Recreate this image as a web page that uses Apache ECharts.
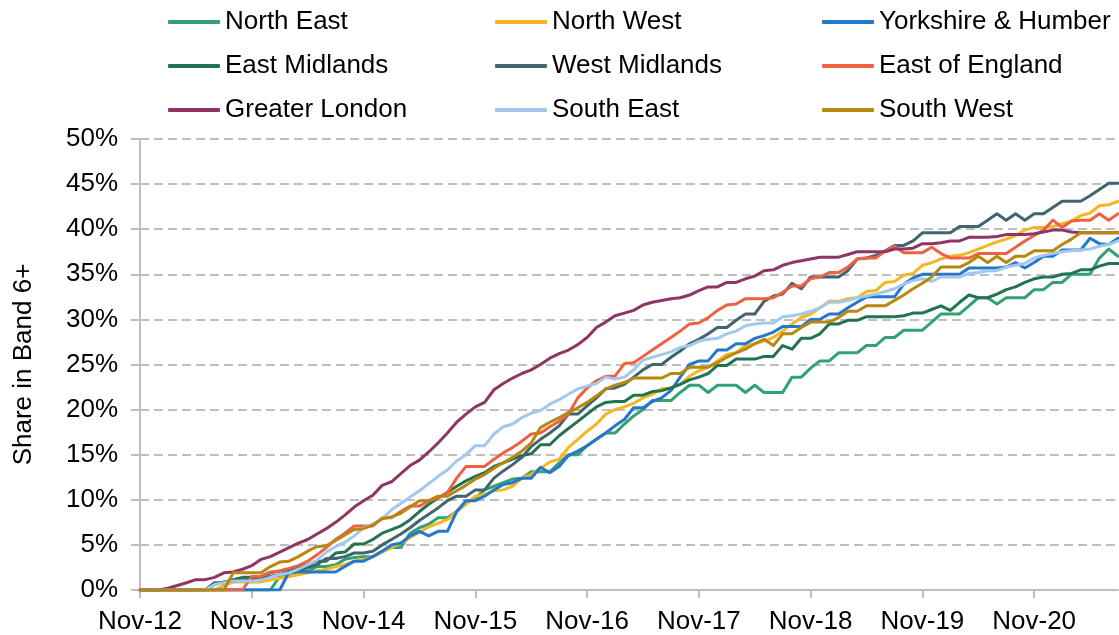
<!DOCTYPE html>
<html lang="en">
<head>
    <meta charset="UTF-8">
    <title>Share in Band 6+ by region</title>
    <script src="https://cdn.jsdelivr.net/npm/echarts@6/dist/echarts.min.js"></script>
    <style>
        html, body { margin: 0; padding: 0; background: #fff; }
        #main { width: 1119px; height: 635px; }
    </style>
</head>
<body>
    <div id="main"></div>
<script>
    // monthly, Nov-12 .. Aug-21
    var months = [
        'Nov-12','Dec-12',
        'Jan-13','Feb-13','Mar-13','Apr-13','May-13','Jun-13','Jul-13','Aug-13','Sep-13','Oct-13','Nov-13','Dec-13',
        'Jan-14','Feb-14','Mar-14','Apr-14','May-14','Jun-14','Jul-14','Aug-14','Sep-14','Oct-14','Nov-14','Dec-14',
        'Jan-15','Feb-15','Mar-15','Apr-15','May-15','Jun-15','Jul-15','Aug-15','Sep-15','Oct-15','Nov-15','Dec-15',
        'Jan-16','Feb-16','Mar-16','Apr-16','May-16','Jun-16','Jul-16','Aug-16','Sep-16','Oct-16','Nov-16','Dec-16',
        'Jan-17','Feb-17','Mar-17','Apr-17','May-17','Jun-17','Jul-17','Aug-17','Sep-17','Oct-17','Nov-17','Dec-17',
        'Jan-18','Feb-18','Mar-18','Apr-18','May-18','Jun-18','Jul-18','Aug-18','Sep-18','Oct-18','Nov-18','Dec-18',
        'Jan-19','Feb-19','Mar-19','Apr-19','May-19','Jun-19','Jul-19','Aug-19','Sep-19','Oct-19','Nov-19','Dec-19',
        'Jan-20','Feb-20','Mar-20','Apr-20','May-20','Jun-20','Jul-20','Aug-20','Sep-20','Oct-20','Nov-20','Dec-20',
        'Jan-21','Feb-21','Mar-21','Apr-21','May-21','Jun-21','Jul-21','Aug-21'
    ];

    var northEast = [0,0,0,0,0,0,0,0,0,0,0,0,0,0,0,1.5,1.5,2.1,2.1,2.6,2.6,2.8,3.4,3.6,3.7,3.7,4.3,4.7,4.7,6.3,
        6.9,7.3,8.0,8.0,8.7,9.7,10.2,11.1,11.5,11.9,12.3,12.4,13.1,13.1,13.1,14.1,15.0,15.0,16.0,16.7,
        17.4,17.4,18.4,19.3,20.0,21.0,21.0,21.0,21.9,22.7,22.7,21.9,22.7,22.7,22.7,21.9,22.7,21.9,21.9,21.9,
        23.6,23.6,24.6,25.4,25.4,26.3,26.3,26.3,27.1,27.1,28.0,28.0,28.8,28.8,28.8,29.7,30.6,30.6,30.6,31.5,
        32.4,32.4,31.7,32.4,32.4,32.4,33.3,33.3,34.1,34.1,35.0,35.0,35.0,36.8,37.8,37.0];
    var northWest = [0,0,0,0,0,0,0,0,0,0.5,0.9,0.9,0.9,0.9,1.1,1.3,1.5,1.7,1.9,2.1,2.3,2.6,2.8,3.2,3.4,3.7,4.2,4.7,5.2,5.8,
        6.4,7.0,7.4,7.8,8.7,9.5,10.4,10.6,11.0,11.1,11.5,12.4,12.8,13.5,14.2,14.5,15.8,16.7,17.6,18.4,
        19.5,20.0,20.3,20.7,21.3,21.7,22.3,22.4,22.8,23.7,24.3,24.7,25.4,26.1,26.3,27.1,27.3,27.6,28.0,28.7,
        29.5,30.2,30.6,31.3,32.0,32.0,32.3,32.4,33.1,33.2,34.1,34.2,34.9,35.1,36.0,36.3,36.7,37.0,37.1,37.4,
        37.8,38.2,38.6,38.9,39.3,39.9,40.2,40.2,40.3,40.6,40.9,41.5,41.8,42.6,42.7,43.1];
    var yorkshire = [0,0,0,0,0,0,0,0,0,0,0,0,0,0,0,0,2.0,2.0,2.0,2.0,2.0,2.0,2.6,3.2,3.2,3.7,4.3,5.0,5.2,6.0,
        6.5,6.0,6.5,6.5,8.7,9.9,9.9,10.4,11.1,11.7,11.9,12.4,12.4,13.6,13.0,13.7,14.9,15.4,16.0,16.7,
        17.4,18.2,18.9,20.2,20.2,20.9,21.3,22.1,23.6,25.0,25.4,25.4,26.6,26.6,27.3,27.3,27.9,28.2,28.6,29.2,
        29.2,29.2,30.0,30.0,30.6,30.6,31.3,31.9,32.5,32.5,32.5,32.5,33.9,34.6,35.0,35.0,35.0,35.0,35.0,35.7,
        35.7,35.7,35.7,35.8,36.3,35.7,36.3,37.0,37.0,37.7,37.7,37.7,39.0,38.4,38.3,39.0];
    var eastMidlands = [0,0,0,0,0,0,0,0,0.8,0.8,1.15,1.4,1.4,1.5,1.9,2.1,2.3,2.5,2.8,3.2,3.2,4.1,4.2,5.1,5.1,5.6,6.3,6.7,7.1,7.8,
        8.7,9.5,10.2,10.8,11.5,12.1,12.6,13.0,13.7,14.1,14.5,14.9,15.1,16.1,16.1,17.1,17.9,18.7,19.5,20.3,
        20.8,20.9,20.9,21.6,21.6,22.0,22.1,22.4,22.8,23.3,23.6,24.0,24.9,24.9,25.6,25.6,25.6,25.9,25.9,27.1,
        26.7,27.9,27.9,28.4,29.5,29.5,29.9,29.9,30.3,30.3,30.3,30.3,30.4,30.7,30.7,31.1,31.5,31.0,31.9,32.7,
        32.4,32.4,32.8,33.3,33.6,34.1,34.5,34.7,34.7,35.0,35.1,35.5,35.5,35.9,36.2,36.2];
    var westMidlands = [0,0,0,0,0,0,0,0,0.6,0.9,1.0,1.1,1.2,1.3,1.5,1.7,2.0,2.1,2.5,2.8,3.5,3.5,3.7,4.1,4.1,4.3,5.0,5.6,6.2,6.9,
        7.7,8.4,9.1,9.9,10.4,10.4,11.1,11.1,12.4,13.2,13.9,14.7,15.9,16.7,17.4,18.2,19.5,19.5,20.4,21.3,
        22.3,22.4,22.8,23.6,24.4,25.0,25.0,25.8,26.5,27.3,27.8,28.4,29.1,29.1,29.9,30.6,30.6,32.0,32.6,32.8,
        34.0,33.4,34.7,34.7,34.7,34.7,35.4,36.7,36.8,37.1,37.6,38.2,38.2,38.7,39.6,39.6,39.6,39.6,40.3,40.3,
        40.3,41.0,41.7,41.0,41.7,41.0,41.7,41.7,42.4,43.1,43.1,43.1,43.7,44.4,45.1,45.1];
    var eastOfEngland = [0,0,0,0,0,0,0,0,0,0,0,0,1.5,1.5,2.0,2.1,2.4,2.7,3.2,3.9,4.7,5.6,6.3,7.1,7.1,7.1,8.0,8.0,8.7,9.3,
        9.3,9.9,10.2,10.8,12.4,13.7,13.7,13.7,14.5,15.2,15.8,16.5,17.3,17.4,18.1,18.7,19.5,21.3,22.4,23.2,
        23.7,23.7,25.1,25.2,25.9,26.6,27.3,28.0,28.7,29.5,29.6,30.2,31.0,31.6,31.7,32.3,32.3,32.3,32.4,33.0,
        33.7,33.7,34.5,34.7,35.2,35.2,35.8,36.7,36.8,36.8,37.6,38.1,37.4,37.4,37.4,38.0,37.3,36.8,36.8,36.8,
        37.3,37.3,37.3,37.3,38.0,38.7,39.3,39.9,41.0,40.2,40.9,41.0,41.0,41.7,41.0,41.7];
    var greaterLondon = [0,0,0,0.2,0.5,0.8,1.15,1.15,1.4,1.9,2.0,2.3,2.7,3.4,3.7,4.2,4.7,5.2,5.6,6.2,6.8,7.5,8.3,9.2,9.9,10.5,11.6,12.0,12.9,13.8,
        14.4,15.3,16.3,17.4,18.6,19.5,20.3,20.8,22.2,22.9,23.5,24.0,24.4,25.0,25.7,26.2,26.6,27.2,28.0,29.1,
        29.7,30.4,30.7,31.0,31.6,31.9,32.1,32.3,32.4,32.7,33.2,33.6,33.6,34.1,34.1,34.5,34.8,35.4,35.5,36.0,
        36.3,36.5,36.7,36.9,36.9,36.9,37.2,37.5,37.5,37.5,37.5,37.8,37.8,37.9,38.4,38.4,38.5,38.7,38.7,39.1,
        39.1,39.1,39.2,39.4,39.4,39.4,39.5,39.7,39.9,39.9,39.7,39.6,39.6,39.6,39.6,39.6];
    var southEast = [0,0,0,0,0,0,0,0,0.6,0.8,1.0,1.0,1.0,1.1,1.4,1.7,1.9,2.3,2.8,3.3,4.2,4.8,5.3,6.0,6.9,7.3,7.9,8.9,9.6,10.3,
        11.0,11.8,12.6,13.3,14.3,15.0,16.0,16.0,17.3,18.1,18.4,19.1,19.6,19.9,20.6,21.1,21.7,22.3,22.6,22.9,
        23.6,23.4,23.6,24.4,25.5,25.8,26.1,26.4,26.9,27.1,27.6,27.8,27.9,28.4,28.7,29.3,29.5,29.6,29.6,30.3,
        30.4,30.6,30.9,31.3,31.9,31.9,32.1,32.4,32.6,32.8,33.1,33.4,33.9,34.3,34.5,34.2,34.7,34.7,34.7,35.1,
        35.2,35.4,35.4,35.8,36.0,36.2,36.8,37.1,37.3,37.5,37.6,37.7,37.8,38.1,38.3,38.7];
    var southWest = [0,0,0,0,0,0,0,0,0,0,1.9,1.9,1.9,1.9,2.6,3.1,3.2,3.7,4.3,4.8,4.9,5.5,6.1,6.7,6.8,7.2,7.9,8.1,8.5,9.2,
        9.9,9.9,10.4,10.4,11.0,11.6,12.3,12.8,13.5,14.1,14.7,15.4,16.3,18.0,18.6,19.1,19.7,20.2,20.8,21.5,
        22.3,22.7,23.0,23.5,23.5,23.5,23.5,24.0,24.0,24.7,24.7,24.7,25.2,25.8,26.3,26.7,27.3,27.8,27.1,28.4,
        28.4,29.1,29.7,29.7,29.7,30.2,30.9,30.9,31.5,31.5,31.5,32.1,32.7,33.4,34.0,34.7,35.8,35.8,35.8,36.3,
        37.0,36.3,37.0,36.3,37.0,37.0,37.6,37.6,37.6,38.3,38.9,39.6,39.6,39.6,39.6,39.6];

    var regions = ['North East', 'North West', 'Yorkshire & Humber',
                   'East Midlands', 'West Midlands', 'East of England',
                   'Greater London', 'South East', 'South West'];
    var values = [northEast, northWest, yorkshire, eastMidlands, westMidlands,
                  eastOfEngland, greaterLondon, southEast, southWest];
    var colors = ['#33a272', '#f5b721', '#2477cc', '#227450', '#41656e',
                  '#f06142', '#8e3563', '#a3c8ee', '#b8870f'];

    var yTicks = [0, 5, 10, 15, 20, 25, 30, 35, 40, 45, 50];

    var font = "'Liberation Sans', Arial, sans-serif";
    var gray = '#bfbfbf';

    var myChart = echarts.init(document.getElementById('main'));

    // one vertical legend per column so the grid lines up
    function legendCol(names, left) {
        return {
            data: names,
            top: 4,
            left: left,
            orient: 'vertical',
            icon: 'roundRect',
            itemWidth: 52,
            itemHeight: 4,
            itemGap: 18,
            selectedMode: false,
            textStyle: { fontFamily: font, fontSize: 26, color: '#000' }
        };
    }

    var series = [];
    for (var i = 0; i < regions.length; i++) {
        series.push({
            name: regions[i],
            type: 'line',
            data: values[i],
            symbol: 'none',
            color: colors[i],
            lineStyle: { width: 3, color: colors[i], join: 'round', cap: 'round' }
        });
    }

    var option = {
        animation: false,
        backgroundColor: '#fff',
        legend: [
            legendCol([regions[0], regions[3], regions[6]], 163),
            legendCol([regions[1], regions[4], regions[7]], 490),
            legendCol([regions[2], regions[5], regions[8]], 817)
        ],
        grid: { left: 140, right: 1, top: 139, bottom: 45, containLabel: false },
        xAxis: {
            type: 'category',
            data: months,
            boundaryGap: false,
            axisLine: { lineStyle: { color: gray, width: 2 } },
            axisTick: { show: true, interval: 11, length: 8, lineStyle: { color: gray, width: 2 } },
            axisLabel: { interval: 11, margin: 19, fontFamily: font, fontSize: 26, color: '#000' },
            splitLine: { show: false }
        },
        yAxis: {
            type: 'value',
            min: yTicks[0],
            max: yTicks[yTicks.length - 1],
            interval: 5,
            name: 'Share in Band 6+',
            nameLocation: 'middle',
            nameRotate: 90,
            nameGap: 103,
            nameTextStyle: { fontFamily: font, fontSize: 26, color: '#000' },
            axisLine: { show: true, lineStyle: { color: gray, width: 2 } },
            axisTick: { show: true, length: 9, lineStyle: { color: gray, width: 2 } },
            axisLabel: { margin: 22, fontFamily: font, fontSize: 26, color: '#000', formatter: '{value}%' },
            splitLine: { show: true, lineStyle: { color: gray, width: 2, type: [9, 5] } }
        },
        series: series
    };

    myChart.setOption(option);
</script>
</body>
</html>
